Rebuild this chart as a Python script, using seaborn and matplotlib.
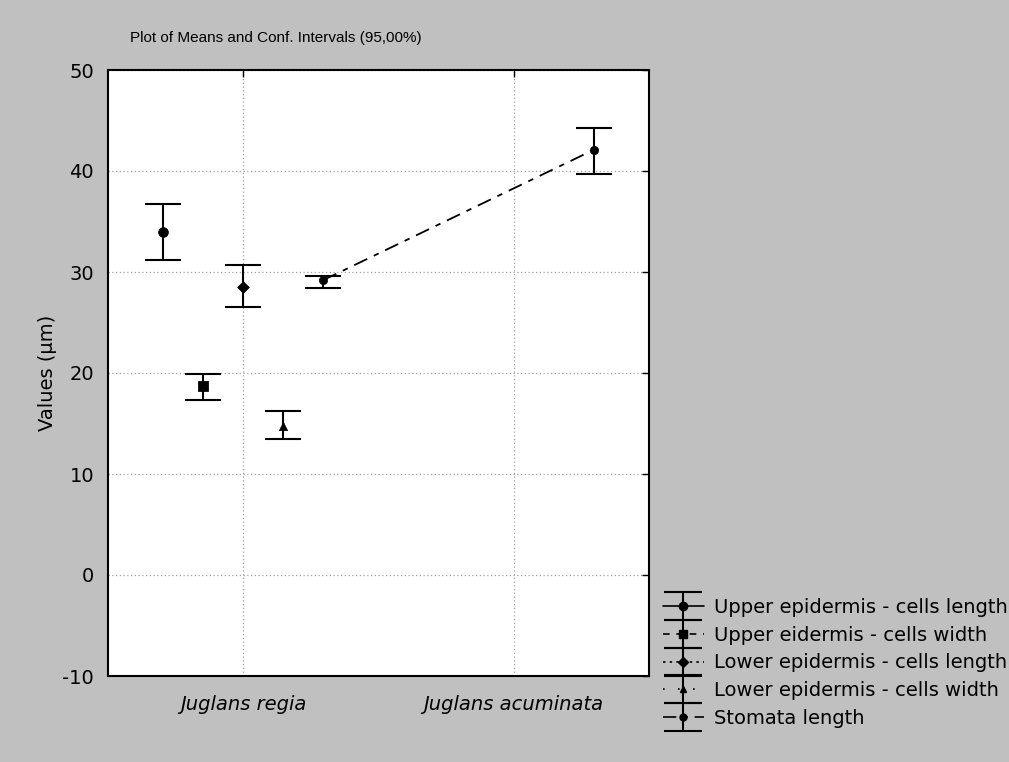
import numpy as np
import pandas as pd
import matplotlib
matplotlib.use("Agg")
import matplotlib.pyplot as plt
from matplotlib.legend_handler import HandlerErrorbar
import seaborn as sns

# species on the x axis
categories = ["Juglans regia", "Juglans acuminata"]

# measured variables (one series each)
series = [
    "Upper epidermis - cells length",
    "Upper eidermis - cells width",
    "Lower epidermis - cells length",
    "Lower epidermis - cells width",
    "Stomata length",
]

means_regia = [34.0, 18.7, 28.5, 14.8, 29.2]
upper_regia = [36.7, 19.9, 30.7, 16.2, 29.6]
lower_regia = [31.2, 17.3, 26.5, 13.5, 28.4]

means_acum = [np.nan, np.nan, np.nan, np.nan, 42.1]
upper_acum = [np.nan, np.nan, np.nan, np.nan, 44.3]
lower_acum = [np.nan, np.nan, np.nan, np.nan, 39.7]

rows = []
for i, s in enumerate(series):
    rows.append((s, categories[0], means_regia[i], lower_regia[i], upper_regia[i]))
    rows.append((s, categories[1], means_acum[i], lower_acum[i], upper_acum[i]))
df = pd.DataFrame(rows, columns=["series", "species", "mean", "low", "high"])

sns.set_style("white")
plt.rcParams["font.family"] = ["DejaVu Sans"]
plt.rcParams["axes.unicode_minus"] = False
for k in ["text.color", "axes.labelcolor", "xtick.color", "ytick.color"]:
    plt.rcParams[k] = "black"

markers = ["o", "s", "D", "^", "o"]
msizes = [7, 7, 6, 6, 6]
lstyles = ["-", (0, (4, 4)), (0, (1.5, 2.5)), (0, (1, 8)), (0, (8, 4, 3, 4))]
offsets = [-0.296, -0.148, 0.0, 0.148, 0.296]

fig = plt.figure(figsize=(10.09, 7.62), dpi=100, facecolor="#c0c0c0")
ax = fig.add_axes([108 / 1009, 86 / 762, 541 / 1009, 606 / 762])
ax.set_facecolor("white")

for i, s in enumerate(series):
    d = df[df["series"] == s].reset_index(drop=True)
    x = np.arange(1, len(categories) + 1) + offsets[i]
    m = d["mean"].to_numpy()
    err = np.vstack([m - d["low"].to_numpy(), d["high"].to_numpy() - m])
    # dashed connection line for series measured on both species
    if d["mean"].notna().sum() > 1:
        sns.lineplot(x=x, y=m, ax=ax, color="black", lw=1.3,
                     linestyle=lstyles[i], legend=False, zorder=2)
    ax.errorbar(x, m, yerr=err, fmt="none", ecolor="black", elinewidth=1.5,
                capsize=13, capthick=1.5, zorder=3)
    sns.scatterplot(x=x, y=m, ax=ax, color="black", marker=markers[i],
                    s=msizes[i] ** 2, edgecolor="black", legend=False, zorder=4)

# legend entries: errorbar glyph with the series line style (dummy, not drawn)
handles = []
for i, s in enumerate(series):
    h = ax.errorbar([np.nan], [np.nan], yerr=[[1], [1]], fmt=markers[i], color="black",
                    ms=msizes[i] - 1, linestyle=lstyles[i], lw=1.2,
                    elinewidth=1.5, capsize=14, capthick=1.5)
    handles.append(h)
fig.legend(handles, series, loc="lower left", bbox_to_anchor=(663 / 1009, 34 / 762),
           frameon=False, fontsize=14, handlelength=2.1, handletextpad=0.5,
           labelspacing=0.45, borderaxespad=0, borderpad=0,
           handler_map={type(handles[0]): HandlerErrorbar(xerr_size=0.5, yerr_size=0.72)})

ax.set_xlim(0.5, 2.5)
ax.set_ylim(-10, 50)
ax.set_xticks([1, 2])
ax.set_xticklabels(categories, fontsize=14, style="italic")
ax.set_yticks(np.arange(-10, 51, 10))
ax.tick_params(axis="y", labelsize=14, pad=10)
ax.tick_params(axis="x", pad=14)
ax.tick_params(direction="in", length=5, width=1, top=True, right=True, color="black")
ax.grid(True, color="#a0a0a0", linestyle=(0, (1, 2)), lw=0.9)
for sp in ax.spines.values():
    sp.set_color("black")
    sp.set_linewidth(1.5)

ax.set_ylabel("Values (\u00b5m)", fontsize=14, labelpad=4)
fig.text(130 / 1009, 1 - 38 / 762, "Plot of Means and Conf. Intervals (95,00%)",
         fontsize=11, va="center", ha="left", family="Liberation Sans")

fig.savefig("out.png", dpi=100, facecolor=fig.get_facecolor())
